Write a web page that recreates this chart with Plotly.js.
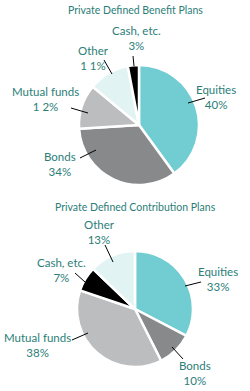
<!DOCTYPE html>
<html><head><meta charset="utf-8">
<script src="https://cdn.plot.ly/plotly-3.0.1.min.js"></script>
<style>html,body{margin:0;padding:0;background:#fff}#chart{width:250px;height:391px}</style>
</head><body><div id="chart"></div>
<script>
const categoriesDB = ["Equities", "Bonds", "Mutual funds", "Other", "Cash, etc."];
const valuesDB = [40, 34, 12, 11, 3];
const pctLabelsDB = ["40%", "34%", "1 2%", "1 1%", "3%"];
const colorsDB = ["#72CDD3", "#88898B", "#BCBDBF", "#E2F3F4", "#000000"];

const categoriesDC = ["Equities", "Bonds", "Mutual funds", "Cash, etc.", "Other"];
const valuesDC = [33, 10, 38, 7, 13];
const pctLabelsDC = ["33%", "10%", "38%", "7%", "13%"];
const colorsDC = ["#72CDD3", "#88898B", "#BCBDBF", "#000000", "#E2F3F4"];

const titles = ["Private Defined Benefit Plans", "Private Defined Contribution Plans"];

const W = 250, H = 391;
const px = x => x / W, py = y => 1 - y / H;
const TXT = "#2B7E78";
const FONT = "Lato, 'Open Sans', sans-serif";

const traces = [
  {type: "pie", labels: categoriesDB, values: valuesDB, sort: false, direction: "clockwise", rotation: 0,
   marker: {colors: colorsDB, line: {color: "#fff", width: 2.5}}, textinfo: "none", hoverinfo: "label+percent",
   domain: {x: [px(79), px(199)], y: [py(185), py(65)]}, showlegend: false},
  {type: "pie", labels: categoriesDC, values: valuesDC, sort: false, direction: "clockwise", rotation: 0,
   marker: {colors: colorsDC, line: {color: "#fff", width: 2.5}}, textinfo: "none", hoverinfo: "label+percent",
   domain: {x: [px(77), px(193)], y: [py(367), py(251)]}, showlegend: false}
];

// label positions (pixels): [cx, nameY, pctY, lineX0, lineY0, lineX1, lineY1]
const posDB = [
  [216, 91, 103, 188, 103, 205, 98],
  [60, 157, 171, 80, 158, 96, 150],
  [45, 92, 106, 71, 108, 88, 113],
  [93, 52, 63, 104, 60, 112, 74],
  [136, 32, 44, 133, 56, 134, 66]
];
const posDC = [
  [218, 273, 285, 185, 286, 201, 282],
  [195, 367, 378, 172, 347, 183, 359],
  [37, 339, 350, 72, 340, 88, 333],
  [61, 264, 276, 75, 273, 85, 282],
  [99, 225, 238, 105, 245, 113, 262]
];

const annotations = [];
const shapes = [];
function addLabels(cats, pcts, pos) {
  cats.forEach((c, i) => {
    const p = pos[i];
    annotations.push({xref: "paper", yref: "paper", x: px(p[0]), y: py((p[1] + p[2]) / 2),
      text: c + "<br>" + pcts[i], showarrow: false, align: "center",
      xanchor: "center", yanchor: "middle", font: {family: FONT, size: 11.5, color: TXT}});
    shapes.push({type: "line", xref: "paper", yref: "paper", x0: px(p[3]), y0: py(p[4]), x1: px(p[5]), y1: py(p[6]),
      line: {color: "#000", width: 1}});
  });
}
addLabels(categoriesDB, pctLabelsDB, posDB);
addLabels(categoriesDC, pctLabelsDC, posDC);
annotations.push({xref: "paper", yref: "paper", x: px(135), y: py(10), text: titles[0], showarrow: false,
  xanchor: "center", yanchor: "middle", font: {family: FONT, size: 10.5, color: TXT}});
annotations.push({xref: "paper", yref: "paper", x: px(135), y: py(207), text: titles[1], showarrow: false,
  xanchor: "center", yanchor: "middle", font: {family: FONT, size: 10.5, color: TXT}});

Plotly.newPlot("chart", traces, {
  width: W, height: H, margin: {l: 0, r: 0, t: 0, b: 0},
  paper_bgcolor: "#fff", plot_bgcolor: "#fff",
  annotations, shapes, showlegend: false
}, {displayModeBar: false, staticPlot: true});
</script></body></html>
